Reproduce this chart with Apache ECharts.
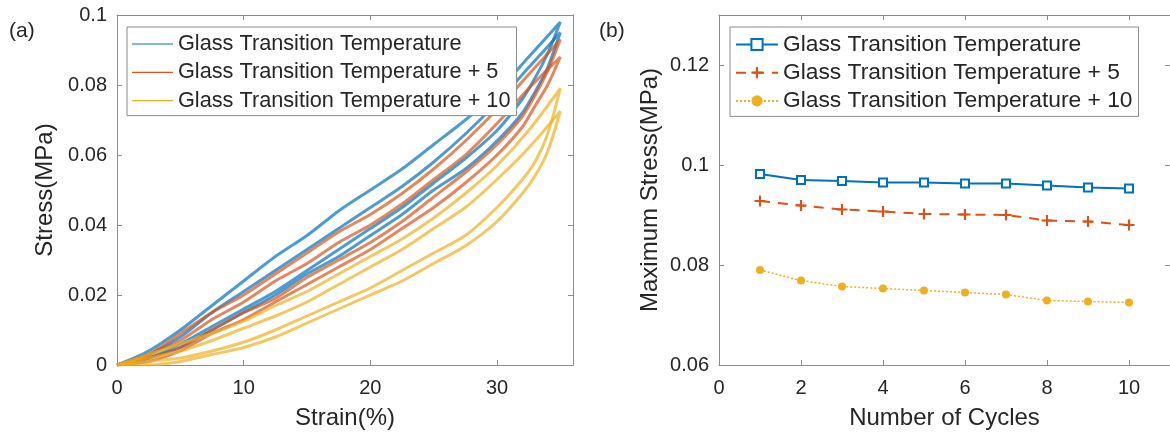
<!DOCTYPE html>
<html>
<head>
<meta charset="utf-8">
<script src="https://cdn.jsdelivr.net/npm/echarts@6/dist/echarts.min.js"></script>
<style>
  html, body { margin: 0; padding: 0; background: #fff; }
  #main { width: 1170px; height: 435px; }
</style>
</head>
<body>
<div id="main"></div>
<script>
// legend names
var names = ['Glass Transition Temperature', 'Glass Transition Temperature + 5', 'Glass Transition Temperature + 10'];
var colors = ['#0072BD', '#D95319', '#EDB120'];

// (a) strain steps for the loading and unloading branch
var strainUp = [0, 2.5, 5, 7.5, 10, 12.5, 15, 17.5, 20, 22.5, 25, 27.5, 30, 32.5, 35];
var strainDown = [35, 34, 33, 32, 30, 27.5, 25, 22.5, 20, 17.5, 15, 12.5, 10, 7.5, 5, 2.5, 0];

// Tg, first and last cycle
var tgUp1 = [0, 0.004, 0.010, 0.017, 0.024, 0.031, 0.037, 0.044, 0.050, 0.056, 0.063, 0.070, 0.078, 0.088, 0.098];
var tgDown1 = [0.098, 0.089, 0.082, 0.076, 0.067, 0.059, 0.052, 0.045, 0.039, 0.033, 0.027, 0.021, 0.016, 0.011, 0.006, 0.002, 0];
var tgUp10 = [0, 0.003, 0.008, 0.015, 0.021, 0.027, 0.033, 0.039, 0.045, 0.051, 0.058, 0.066, 0.075, 0.085, 0.095];
var tgDown10 = [0.095, 0.085, 0.078, 0.072, 0.064, 0.056, 0.050, 0.043, 0.037, 0.031, 0.026, 0.020, 0.015, 0.010, 0.005, 0.002, 0];

// Tg + 5
var tg5Up1 = [0, 0.003, 0.009, 0.015, 0.020, 0.026, 0.032, 0.038, 0.043, 0.049, 0.056, 0.064, 0.073, 0.083, 0.093];
var tg5Down1 = [0.093, 0.084, 0.077, 0.071, 0.063, 0.055, 0.048, 0.041, 0.035, 0.030, 0.025, 0.019, 0.015, 0.010, 0.005, 0.002, 0];
var tg5Up10 = [0, 0.003, 0.007, 0.013, 0.018, 0.024, 0.029, 0.035, 0.040, 0.046, 0.053, 0.060, 0.069, 0.079, 0.088];
var tg5Down10 = [0.088, 0.080, 0.074, 0.068, 0.060, 0.052, 0.045, 0.039, 0.033, 0.028, 0.023, 0.018, 0.013, 0.009, 0.004, 0.001, 0];

// Tg + 10
var tg10Up1 = [0, 0.003, 0.006, 0.009, 0.0125, 0.017, 0.021, 0.026, 0.031, 0.036, 0.042, 0.049, 0.057, 0.067, 0.079];
var tg10Down1 = [0.079, 0.066, 0.058, 0.053, 0.045, 0.037, 0.032, 0.027, 0.022, 0.018, 0.014, 0.010, 0.0065, 0.004, 0.002, 0.001, 0];
var tg10Up10 = [0, 0.002, 0.004, 0.007, 0.0105, 0.014, 0.018, 0.023, 0.028, 0.033, 0.039, 0.045, 0.053, 0.062, 0.0725];
var tg10Down10 = [0.0725, 0.061, 0.054, 0.049, 0.041, 0.034, 0.029, 0.024, 0.020, 0.016, 0.012, 0.008, 0.005, 0.003, 0.001, 0, 0];

// (b) maximum stress per cycle
var cycles = [1, 2, 3, 4, 5, 6, 7, 8, 9, 10];
var maxTg = [0.0982, 0.0970, 0.0968, 0.0965, 0.0965, 0.0963, 0.0963, 0.0959, 0.0955, 0.0953];
var maxTg5 = [0.0928, 0.0919, 0.0911, 0.0907, 0.0902, 0.0901, 0.0900, 0.0889, 0.0887, 0.0880];
var maxTg10 = [0.0790, 0.0769, 0.0757, 0.0753, 0.0749, 0.0745, 0.0741, 0.0729, 0.0727, 0.0725];

var FONT = '"Liberation Sans", Arial, sans-serif';
var AXIS = '#8c8c8c';
var TXT = '#262626';

function loop(up, down) {
    var pts = [];
    for (var i = 0; i < strainUp.length; i++) pts.push([strainUp[i], up[i]]);
    for (var j = 0; j < strainDown.length; j++) pts.push([strainDown[j], down[j]]);
    return pts;
}
function pairs(ys) {
    var pts = [];
    for (var i = 0; i < cycles.length; i++) pts.push([cycles[i], ys[i]]);
    return pts;
}

function boxAxis(pos, grid, min, max, interval, labels, nameTxt, gap, extra) {
    var ax = {
        type: 'value', gridIndex: grid, position: pos,
        min: min, max: max, interval: interval,
        axisLine: { show: true, onZero: false, lineStyle: { color: AXIS, width: 1 } },
        axisTick: { show: true, inside: true, length: 5, lineStyle: { color: AXIS } },
        axisLabel: { show: labels, color: TXT, fontSize: 20, fontFamily: FONT, margin: 10, showMaxLabel: false },
        splitLine: { show: false }
    };
    if (nameTxt) {
        ax.name = nameTxt;
        ax.nameLocation = 'middle';
        ax.nameGap = gap;
        ax.nameTextStyle = { color: TXT, fontSize: 24, fontFamily: FONT };
    }
    for (var k in extra) ax.axisLabel[k] = extra[k];
    return ax;
}

function initChart() {
    var myChart = echarts.init(document.getElementById('main'), null, { renderer: 'canvas' });

    var loops = [[tgUp1, tgDown1, tgUp10, tgDown10], [tg5Up1, tg5Down1, tg5Up10, tg5Down10], [tg10Up1, tg10Down1, tg10Up10, tg10Down10]];
    var series = [];
    for (var s = 0; s < 3; s++) {
        series.push({ name: names[s], type: 'line', xAxisIndex: 0, yAxisIndex: 0, data: loop(loops[s][0], loops[s][1]),
            symbol: 'none', smooth: 0.25, color: colors[s], lineStyle: { width: 3, opacity: 0.7 } });
        series.push({ name: names[s], type: 'line', xAxisIndex: 0, yAxisIndex: 0, data: loop(loops[s][2], loops[s][3]),
            symbol: 'none', smooth: 0.25, color: colors[s], lineStyle: { width: 3, opacity: 0.7 } });
    }
    series.push({ name: '(b) ' + names[0], type: 'line', xAxisIndex: 2, yAxisIndex: 2, data: pairs(maxTg),
        symbol: 'emptyRect', symbolSize: 8, color: colors[0], lineStyle: { width: 2 }, itemStyle: { borderWidth: 1.5 } });
    series.push({ name: '(b) ' + names[1], type: 'line', xAxisIndex: 2, yAxisIndex: 2, data: pairs(maxTg5),
        symbol: 'path://M4,0h2v4h4v2h-4v4h-2v-4h-4v-2h4z', symbolSize: 11, color: colors[1],
        lineStyle: { width: 2, type: [10, 8] } });
    series.push({ name: '(b) ' + names[2], type: 'line', xAxisIndex: 2, yAxisIndex: 2, data: pairs(maxTg10),
        symbol: 'circle', symbolSize: 8, color: colors[2], lineStyle: { width: 1.5, type: [2, 2] } });

    function strip(n) { return n.replace('(b) ', ''); }

    var option = {
        animation: false,
        backgroundColor: '#fff',
        title: [
            { text: '(a)', left: 4, top: 16, textStyle: { fontSize: 21, fontWeight: 'normal', color: TXT, fontFamily: FONT } },
            { text: '(b)', left: 594, top: 16, textStyle: { fontSize: 21, fontWeight: 'normal', color: TXT, fontFamily: FONT } }
        ],
        legend: [
            {
                orient: 'vertical', left: 127, top: 27, itemGap: 6.3, selectedMode: false,
                data: names, icon: 'rect', itemWidth: 41, itemHeight: 1.2, padding: [6, 6, 4, 5],
                borderColor: AXIS, borderWidth: 1, backgroundColor: '#fff',
                textStyle: { color: TXT, fontSize: 21.7, fontFamily: FONT }
            },
            {
                orient: 'vertical', left: 730, top: 27, itemGap: 5.2, selectedMode: false,
                data: names.map(function (n) { return '(b) ' + n; }), itemWidth: 42, itemHeight: 14,
                padding: [6, 6, 4, 5], formatter: strip,
                borderColor: AXIS, borderWidth: 1, backgroundColor: '#fff',
                textStyle: { color: TXT, fontSize: 22.8, fontFamily: FONT }
            }
        ],
        grid: [
            { left: 117, top: 15, width: 456, height: 350 },
            { left: 719, top: 15, width: 456, height: 350 }
        ],
        xAxis: [
            boxAxis('bottom', 0, 0, 36, 10, true, 'Strain(%)', 41, { margin: 13 }),
            boxAxis('top', 0, 0, 36, 10, false),
            boxAxis('bottom', 1, 0, 11, 2, true, 'Number of Cycles', 41, { margin: 13 }),
            boxAxis('top', 1, 0, 11, 2, false)
        ],
        yAxis: [
            boxAxis('left', 0, 0, 0.1, 0.02, true, 'Stress(MPa)', 60, { showMaxLabel: true }),
            boxAxis('right', 0, 0, 0.1, 0.02, false),
            boxAxis('left', 1, 0.06, 0.13, 0.02, true, 'Maximum Stress(MPa)', 57),
            boxAxis('right', 1, 0.06, 0.13, 0.02, false)
        ],
        series: series
    };

    myChart.setOption(option);
}

initChart();
</script>
</body>
</html>
